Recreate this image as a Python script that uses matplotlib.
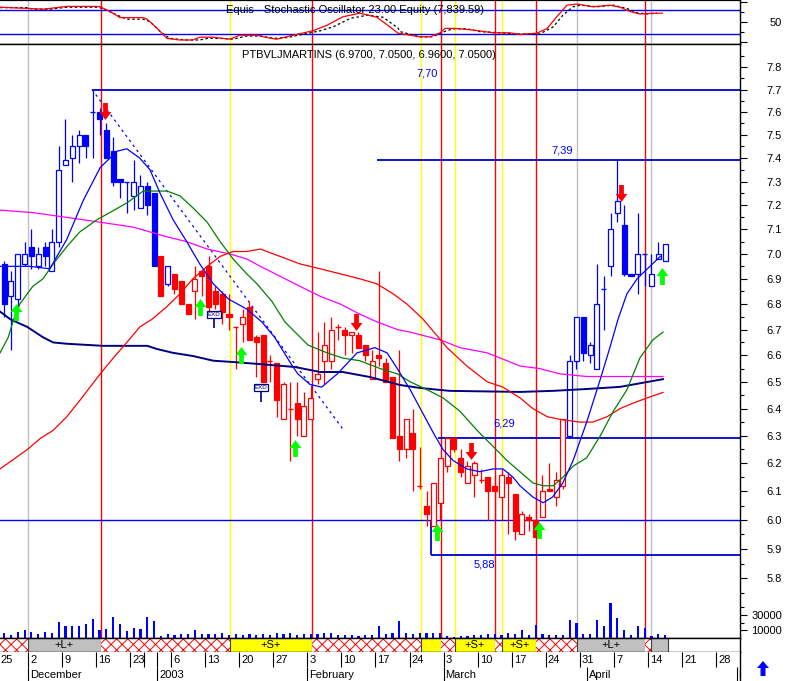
import matplotlib
matplotlib.use("Agg")
import matplotlib.pyplot as plt
from matplotlib.path import Path
from matplotlib.patches import Rectangle, Polygon
from matplotlib.ticker import FixedLocator, FixedFormatter, NullFormatter, NullLocator
import matplotlib.transforms as mtransforms

plt.rcParams['font.family'] = ['Liberation Sans', 'DejaVu Sans']
plt.rcParams['hatch.linewidth'] = 0.7
plt.rcParams['hatch.color'] = '#ff0000'

# ---------------- data (trading-day index, 1 = 26 Nov 2002) ----------------
days = list(range(1, 99))
opens = [6.96, 6.83, 6.82, 6.96, 7.03, 6.95, 7.03, 6.93, 7.05, 7.37,
         7.40, 7.45, 7.50, 7.60, 7.60, 7.52, 7.43, 7.31, 7.30, 7.24,
         7.19, 7.28, 7.25, 6.99, 6.88, 6.92, 6.89, 6.80, 6.85, 6.93,
         6.95, 6.85, 6.84, 6.76, 6.71, 6.72, 6.79, 6.67, 6.68, 6.58,
         6.57, 6.36, 6.40, 6.42, 6.30, 6.36, 6.51, 6.58, 6.58, 6.71,
         6.70, 6.68, 6.68, 6.64, 6.51, 6.60, 6.57, 6.52, 6.30, 6.25,
         6.31, 6.12, 6.05, 5.98, 6.06, 6.19, 6.29, 6.22, 6.13, 6.16,
         6.14, 6.15, 6.12, 6.08, 6.15, 6.09, 5.95, 6.01, 6.00, 6.01,
         6.11, 6.08, 6.12, 6.30, 6.58, 6.75, 6.60, 6.55, 6.86, 6.95,
         7.17, 7.12, 6.92, 6.92, 7.00, 6.87, 6.98, 6.97]
highs = [6.97, 6.93, 7.00, 7.05, 7.10, 7.03, 7.05, 7.10, 7.45, 7.57,
         7.50, 7.52, 7.50, 7.70, 7.62, 7.55, 7.49, 7.31, 7.30, 7.39,
         7.33, 7.30, 7.25, 6.99, 6.95, 6.92, 6.89, 6.80, 6.95, 6.93,
         6.99, 6.87, 6.85, 6.84, 6.71, 6.78, 6.81, 6.68, 6.68, 6.60,
         6.57, 6.50, 6.50, 6.50, 6.46, 6.48, 6.69, 6.73, 6.75, 6.72,
         6.71, 6.69, 6.69, 6.64, 6.62, 6.93, 6.59, 6.52, 6.62, 6.36,
         6.40, 6.26, 6.10, 6.13, 6.22, 6.29, 6.29, 6.25, 6.21, 6.21,
         6.18, 6.15, 6.16, 6.18, 6.17, 6.09, 6.03, 6.02, 6.10, 6.16,
         6.20, 6.17, 6.36, 6.60, 6.75, 6.75, 6.65, 6.96, 6.91, 7.17,
         7.39, 7.20, 6.92, 7.17, 7.00, 7.00, 7.05, 7.04]
lows = [6.75, 6.62, 6.79, 6.95, 6.94, 6.94, 6.95, 6.93, 7.03, 7.37,
        7.30, 7.38, 7.40, 7.40, 7.50, 7.40, 7.28, 7.23, 7.17, 7.18,
        7.19, 7.16, 6.95, 6.83, 6.87, 6.84, 6.80, 6.76, 6.74, 6.83,
        6.76, 6.78, 6.72, 6.70, 6.55, 6.65, 6.66, 6.52, 6.50, 6.50,
        6.37, 6.36, 6.21, 6.30, 6.30, 6.36, 6.49, 6.49, 6.55, 6.66,
        6.60, 6.61, 6.63, 6.58, 6.51, 6.56, 6.50, 6.29, 6.21, 6.22,
        6.10, 6.11, 5.98, 5.98, 6.00, 6.17, 6.24, 6.15, 6.13, 6.08,
        6.13, 6.00, 6.00, 6.00, 5.95, 5.93, 5.95, 5.96, 5.94, 6.01,
        6.10, 6.05, 6.11, 6.30, 6.55, 6.58, 6.57, 6.55, 6.70, 6.91,
        7.13, 6.91, 6.91, 6.84, 6.87, 6.87, 6.98, 6.97]
closes = [6.80, 6.89, 7.00, 7.00, 6.99, 7.00, 6.99, 7.05, 7.35, 7.39,
          7.45, 7.50, 7.45, 7.60, 7.57, 7.40, 7.30, 7.30, 7.30, 7.30,
          7.28, 7.20, 6.95, 6.83, 6.95, 6.86, 6.80, 6.76, 6.90, 6.91,
          6.79, 6.80, 6.77, 6.75, 6.71, 6.75, 6.66, 6.65, 6.50, 6.58,
          6.43, 6.49, 6.40, 6.36, 6.41, 6.44, 6.53, 6.64, 6.70, 6.71,
          6.68, 6.69, 6.63, 6.60, 6.58, 6.59, 6.50, 6.29, 6.25, 6.36,
          6.25, 6.12, 6.02, 6.13, 6.22, 6.29, 6.25, 6.17, 6.19, 6.20,
          6.14, 6.10, 6.10, 6.16, 6.13, 5.96, 6.02, 6.00, 5.94, 6.10,
          6.10, 6.14, 6.36, 6.58, 6.75, 6.61, 6.64, 6.80, 6.86, 7.10,
          7.22, 6.92, 6.91, 7.00, 7.00, 6.92, 7.00, 7.04]
candle_colors = 'b' * 23 + 'r' + 'b' + 'r' * 58 + 'b' * 15
volumes = [6400, 4300, 7700, 9900, 7300, 5100, 7700, 6900, 21000, 15900,
           15000, 16300, 18000, 24900, 10700, 12000, 27500, 18000, 9400, 13300,
           11600, 27500, 22300, 3000, 4700, 3400, 4700, 5100, 10700, 4700,
           5600, 5100, 6000, 3400, 5100, 4300, 4700, 3900, 4700, 3900,
           6000, 5600, 6900, 3900, 5600, 4700, 5600, 6000, 6900, 3400,
           4300, 3400, 3000, 3900, 4300, 15900, 4700, 6400, 22300, 6400,
           4700, 6900, 6900, 6900, 6000, 2600, 1700, 3000, 3000, 3900,
           3900, 5600, 4700, 3400, 6400, 5100, 10300, 4300, 17200, 5100,
           4300, 3900, 3900, 23600, 19300, 5600, 5600, 23600, 15000, 45000,
           26600, 10700, 4300, 15900, 12900, 3000, 5600, 4300]

# moving averages
ma_blue_x = [0.4, 4.8, 7.7, 10.2, 12.6, 15.1, 17.6, 19.0, 20.9, 22.4, 23.9, 25.8, 27.8, 29.7, 31.7,
             33.9, 36.6, 38.8, 40.7, 43.3, 44.1, 45.9, 47.6, 49.9, 52.8, 55.4, 57.2, 58.7, 60.6, 62.5,
             64.0, 65.4, 66.9, 68.9, 70.8, 72.8, 74.2, 75.7, 76.7, 78.6, 80.1, 81.5, 83.0, 84.5, 86.5,
             88.5, 89.9, 91.1, 92.4, 93.9, 95.4, 97.3]
ma_blue_y = [6.95, 6.95, 6.94, 7.06, 7.22, 7.36, 7.43, 7.44, 7.40, 7.35, 7.25, 7.14, 7.05, 6.96, 6.88,
             6.82, 6.78, 6.73, 6.67, 6.56, 6.53, 6.49, 6.48, 6.53, 6.61, 6.63, 6.61, 6.55, 6.47, 6.38,
             6.31, 6.25, 6.21, 6.18, 6.17, 6.18, 6.18, 6.15, 6.12, 6.08, 6.06, 6.08, 6.13, 6.21, 6.35,
             6.51, 6.63, 6.74, 6.84, 6.90, 6.94, 6.99]
ma_green_x = [0.4, 1.6, 2.4, 3.3, 5.2, 6.7, 8.2, 10.2, 12.1, 14.6, 16.5, 19.0, 21.4, 23.4, 24.9,
              26.8, 28.7, 30.8, 32.7, 34.6, 36.6, 38.1, 40.3, 42.2, 43.7, 45.6, 48.4, 50.7, 53.2, 56.2,
              58.7, 60.6, 63.1, 65.4, 67.9, 70.4, 72.8, 74.8, 76.7, 78.6, 80.1, 81.6, 83.0, 84.5, 86.5,
              88.5, 90.4, 92.4, 94.3, 96.2, 97.7]
ma_green_y = [6.61, 6.67, 6.74, 6.80, 6.87, 6.90, 6.96, 7.03, 7.09, 7.14, 7.17, 7.21, 7.26, 7.26, 7.26,
              7.24, 7.19, 7.13, 7.05, 6.98, 6.92, 6.88, 6.81, 6.73, 6.69, 6.64, 6.61, 6.59, 6.58, 6.55,
              6.53, 6.50, 6.47, 6.44, 6.39, 6.32, 6.26, 6.21, 6.17, 6.13, 6.12, 6.12, 6.15, 6.19, 6.22,
              6.30, 6.39, 6.47, 6.59, 6.66, 6.69]
ma_red_x = [0.4, 4.4, 6.3, 8.2, 10.2, 12.1, 13.6, 15.1, 17.0, 19.0, 20.9, 22.7, 24.9, 26.8, 28.7,
            30.8, 32.7, 34.6, 36.6, 38.6, 41.5, 44.4, 47.4, 50.3, 53.2, 55.7, 58.1, 60.1, 62.5, 66.0,
            68.9, 71.9, 74.2, 76.7, 78.6, 80.7, 82.6, 85.5, 87.4, 89.5, 91.4, 93.3, 95.4, 97.7]
ma_red_y = [6.18, 6.25, 6.29, 6.32, 6.37, 6.43, 6.48, 6.53, 6.59, 6.65, 6.71, 6.74, 6.79, 6.84, 6.90,
            6.95, 6.99, 7.01, 7.01, 7.02, 6.99, 6.96, 6.94, 6.92, 6.90, 6.88, 6.84, 6.80, 6.74, 6.63,
            6.56, 6.50, 6.48, 6.44, 6.40, 6.37, 6.36, 6.35, 6.35, 6.37, 6.40, 6.42, 6.44, 6.46]
ma_mag_x = [0.4, 5.2, 10.2, 15.1, 19.9, 24.9, 27.8, 30.8, 34.1, 36.6, 38.6, 41.5, 44.4, 47.4, 50.3,
            53.2, 55.7, 58.7, 60.6, 65.0, 67.9, 71.9, 74.8, 76.7, 79.6, 82.6, 86.5, 91.4, 97.7]
ma_mag_y = [7.18, 7.17, 7.15, 7.13, 7.11, 7.07, 7.05, 7.02, 7.00, 6.98, 6.95, 6.91, 6.87, 6.83, 6.80,
            6.76, 6.73, 6.70, 6.69, 6.66, 6.63, 6.61, 6.58, 6.56, 6.55, 6.53, 6.52, 6.52, 6.52]
ma_navy_x = [0.4, 1.9, 4.4, 6.7, 8.2, 10.2, 15.5, 22.0, 23.4, 25.8, 28.7, 31.7, 34.6, 38.6, 43.7,
             47.4, 50.7, 54.7, 59.1, 62.0, 66.4, 76.7, 81.5, 86.5, 91.4, 97.7]
ma_navy_y = [6.77, 6.74, 6.71, 6.67, 6.65, 6.645, 6.637, 6.637, 6.625, 6.61, 6.598, 6.58, 6.575, 6.567,
             6.556, 6.537, 6.537, 6.518, 6.488, 6.477, 6.466, 6.462, 6.466, 6.473, 6.481, 6.51]

# stochastic oscillator
stoch_k_days = [0.4, 4.4, 6.7, 10.2, 14.6, 15.1, 17.0, 18.0, 21.4, 22.0, 23.4, 24.9, 26.8, 28.7, 29.7,
                31.7, 34.1, 35.6, 38.1, 39.6, 41.0, 43.4, 46.3, 48.4, 50.7, 53.2, 55.7, 57.6, 58.8, 62.0,
                63.5, 65.0, 65.7, 67.2, 69.8, 72.8, 75.2, 76.7, 79.2, 80.7, 82.1, 83.6, 85.1, 87.4, 89.9,
                91.4, 92.9, 94.3, 96.2, 97.6]
stoch_k = [87, 84, 82, 89, 89, 88, 72, 61, 61, 57, 35, 9, 5, 5, 12,
           12, 7, 17, 17, 11, 7, 17, 28, 42, 63, 72, 62, 38, 22, 13,
           13, 23, 34, 34, 30, 23, 23, 19, 22, 34, 63, 92, 95, 88, 92,
           87, 76, 70, 72, 72]
stoch_d_days = [0.4, 4.4, 5.2, 7.7, 10.2, 14.6, 15.5, 17.6, 19.0, 21.4, 22.4, 23.9, 25.3, 27.8, 29.7,
                30.8, 32.7, 34.6, 36.6, 38.6, 40.5, 42.5, 45.9, 47.4, 49.3, 51.8, 54.3, 56.6, 58.8, 59.1,
                62.0, 63.9, 65.4, 66.9, 68.9, 70.8, 73.8, 76.7, 79.6, 81.6, 83.0, 84.5, 85.5, 88.0, 90.4,
                92.4, 93.9, 95.4, 96.8]
stoch_d = [86, 86, 82, 82, 87, 87, 84, 67, 57, 57, 51, 26, 9, 5, 5,
           9, 9, 7, 15, 15, 9, 11, 23, 28, 38, 59, 67, 62, 35, 26,
           13, 13, 25, 33, 33, 26, 23, 20, 20, 38, 67, 88, 92, 88, 92,
           84, 73, 70, 72]

# horizontal levels
level_vals = [7.70, 7.39, 6.29, 5.88]
level_from = [13.9, 55.7, 64.7, 63.6]
level_labels = ['7,70', '7,39', '6,29', '5,88']
level_label_day = [63.1, 82.95, 74.4, 71.5]
level_label_dy = [11.2, 6.8, 10.8, -7.2]
support_level = 6.00
trend_days = [13.9, 50.7]
trend_prices = [7.70, 6.325]

# signal arrows
buy_days = [2.8, 29.7, 35.7, 43.7, 64.6, 79.5, 97.5]
buy_prices = [6.770, 6.790, 6.600, 6.256, 5.958, 5.965, 6.910]
sell_days = [15.8, 52.6, 69.5, 91.5]
sell_prices = [7.604, 6.731, 6.246, 7.250]
exd_days = [31.8, 38.7]
exd_prices = [6.757, 6.477]
exd_stem_low = [6.706, 6.425]

# signal bar segments
sig_start = [0.0, 4.5, 15.2, 34.15, 46.2, 62.2, 65.1, 67.2, 73.0, 74.1, 79.1, 85.1, 95.1, 95.95]
sig_kind = ['X', 'L', 'X', 'S', 'X', 'S', 'X', 'S', 'X', 'S', 'X', 'L', 'X', 'L']
sig_end = 98.45

# date axis
week_bounds = [-0.5, 4.5, 9.5, 14.5, 19.5, 21.5, 23.5, 25.5, 30.5, 35.5, 40.5, 45.5, 50.5, 55.5,
               60.5, 65.5, 70.5, 75.5, 80.5, 85.5, 90.5, 95.5, 100.5, 105.5]
week_labels = ['25', '2', '9', '16', '23', '', '', '6', '13', '20', '27', '3', '10', '17',
               '24', '3', '10', '17', '24', '31', '7', '14', '21', '28']
month_bounds = [4.5, 23.5, 45.5, 65.5, 86.5, 108.5]
month_labels = ['December', '2003', 'February', 'March', 'April', 'May']

price_ticks = [5.8, 5.9, 6.0, 6.1, 6.2, 6.3, 6.4, 6.5, 6.6, 6.7, 6.8, 6.9, 7.0,
               7.1, 7.2, 7.3, 7.4, 7.5, 7.6, 7.7, 7.8]
price_minor = [5.75, 5.85, 5.95, 6.05, 6.15, 6.25, 6.35, 6.45, 6.55, 6.65, 6.75, 6.85,
               6.95, 7.05, 7.15, 7.25, 7.35, 7.45, 7.55, 7.65, 7.75, 7.85]

# ---------------- layout ----------------
W, H = 787, 681
AXR = 740
XLIM = (0.39, 109.0)
BLUE, RED = '#0000ff', '#ff0000'

fig = plt.figure(figsize=(W / 100, H / 100), dpi=100)
fig.patch.set_facecolor('white')


def box(top, bottom):
    return [0, 1 - bottom / H, AXR / W, (bottom - top) / H]


ax_st = fig.add_axes(box(0, 44))
ax = fig.add_axes(box(44, 638))
ax_vol = fig.add_axes(box(600, 638))
ax_sig = fig.add_axes(box(638, 652))
ax_dt = fig.add_axes(box(652, 681))

for a in (ax_st, ax, ax_vol, ax_sig, ax_dt):
    a.set_xlim(*XLIM)
    a.xaxis.set_major_locator(NullLocator())
    a.xaxis.set_minor_locator(NullLocator())
    a.spines['left'].set_visible(False)
    for s in a.spines.values():
        s.set_linewidth(1.0)


def right_axis(a, major, labels, minor):
    a.yaxis.tick_right()
    a.yaxis.set_major_locator(FixedLocator(major))
    a.yaxis.set_major_formatter(FixedFormatter(labels))
    a.yaxis.set_minor_locator(FixedLocator(minor))
    a.yaxis.set_minor_formatter(NullFormatter())
    a.tick_params(axis='y', which='major', length=5, width=0.8, pad=25.2,
                  labelsize=8, direction='out')
    a.tick_params(axis='y', which='minor', length=2.9, width=0.8, direction='out')
    for t in a.yaxis.get_major_ticks():
        t.label2.set_horizontalalignment('right')


# ---- stochastic panel ----
ax_st.set_ylim(-5, 105)
right_axis(ax_st, [0, 50, 100], ['', '50', ''], [25, 75])
ax_st.spines['top'].set_linewidth(1.6)
ax_st.axhline(80, color=BLUE, lw=1.0, zorder=2)
ax_st.axhline(20, color=BLUE, lw=1.0, zorder=2)
ax_st.plot(stoch_d_days, stoch_d, color='black', lw=0.9, ls=(0, (2, 2)), zorder=3)
ax_st.plot(stoch_k_days, stoch_k, color=RED, lw=0.9, zorder=4)

# ---- main price panel ----
ax.set_yscale('log')
ax.set_ylim(5.603, 7.906)
right_axis(ax, price_ticks, ['%.1f' % v for v in price_ticks], price_minor)

# signal vertical lines
line_col = {'L': '#c0c0c0', 'S': '#ffff00', 'X': RED}
for x, k in zip(sig_start[1:], sig_kind[1:]):
    ax.axvline(x, color=line_col[k], lw=1.0, zorder=1)
    ax_st.axvline(x, color=line_col[k], lw=1.0, zorder=1)

# levels
ax.axhline(support_level, color=BLUE, lw=1.0, zorder=1.5)
ax.hlines(level_vals, level_from, XLIM[1], colors='#0000cd', lw=1.3, zorder=1.5)
ax.vlines(level_from[3], level_vals[3], support_level, colors='#0000cd', lw=1.3, zorder=1.5)
for lab, lx, v, dy in zip(level_labels, level_label_day, level_vals, level_label_dy):
    ax.annotate(lab, xy=(lx, v), xytext=(0, dy), textcoords='offset points',
                ha='center', va='center', color=BLUE, fontsize=8)
ax.plot(trend_days, trend_prices, color=BLUE, lw=0.9, ls=(0, (2, 3)), zorder=1.6)

# candles
cmap = {'b': BLUE, 'r': RED}
ccol = [cmap[c] for c in candle_colors]
ax.vlines(days, lows, highs, colors=ccol, lw=0.9, zorder=2)
bx, bh, bb, bf, be = [], [], [], [], []
for d, o, c, k in zip(days, opens, closes, candle_colors):
    if o == c:
        ax.hlines(o, d - 0.38, d + 0.38, colors=cmap[k], lw=1.0, zorder=2.5)
    else:
        bx.append(d)
        bb.append(min(o, c))
        bh.append(abs(c - o))
        bf.append(cmap[k] if c < o else 'white')
        be.append(cmap[k])
ax.bar(bx, bh, bottom=bb, width=0.74, color=bf, edgecolor=be, linewidth=0.9, zorder=2.5)

# moving averages
ax.plot(ma_navy_x, ma_navy_y, color='#000080', lw=1.4, zorder=3)
ax.plot(ma_mag_x, ma_mag_y, color='#ff00ff', lw=0.9, zorder=3)
ax.plot(ma_red_x, ma_red_y, color=RED, lw=0.9, zorder=3)
ax.plot(ma_green_x, ma_green_y, color='#008000', lw=0.9, zorder=3)
ax.plot(ma_blue_x, ma_blue_y, color=BLUE, lw=0.9, zorder=3)

# arrows
up_verts = [(-0.28, -1), (0.28, -1), (0.28, 0.05), (0.7, 0.05), (0, 1), (-0.7, 0.05),
            (-0.28, 0.05), (-0.28, -1)]
codes = [Path.MOVETO] + [Path.LINETO] * 6 + [Path.CLOSEPOLY]
up_path = Path(up_verts, codes)
down_path = Path([(x, -y) for x, y in up_verts], codes)
ax.plot(buy_days, buy_prices, ls='none', marker=up_path, ms=12.2,
        mfc='#00ff00', mec='none', zorder=5)
ax.plot(sell_days, sell_prices, ls='none', marker=down_path, ms=12.2,
        mfc=RED, mec='none', zorder=5)

# ex-dividend markers
ax.vlines(exd_days, exd_stem_low, exd_prices, colors='#000080', lw=1.2, zorder=5)
for d, p in zip(exd_days, exd_prices):
    ax.text(d, p, 'EXD', fontsize=4.5, color='#000080', ha='center', va='center', zorder=6,
            bbox=dict(boxstyle='square,pad=0.15', fc='white', ec='#000080', lw=0.9))

# ---- volume ----
ax_vol.set_ylim(0, 49565)
ax_vol.patch.set_visible(False)
for s in ax_vol.spines.values():
    s.set_visible(False)
right_axis(ax_vol, [10000, 30000], ['10000', '30000'], [20000, 40000])
ax_vol.bar(days, volumes, width=0.32, color=BLUE, zorder=2)

# ---- signal bar ----
ax_sig.set_ylim(0, 1)
ax_sig.yaxis.set_major_locator(NullLocator())
ends = sig_start[1:] + [sig_end]
for s, e, k in zip(sig_start, ends, sig_kind):
    if k == 'X':
        ax_sig.add_patch(Rectangle((s, 0), e - s, 1, facecolor='white', edgecolor=RED,
                                   hatch='xxx', lw=0))
    else:
        fc = '#c0c0c0' if k == 'L' else '#ffff00'
        ax_sig.add_patch(Rectangle((s, 0), e - s, 1, facecolor=fc, edgecolor='#404040', lw=0.8))
        if (e - s) > 3.7:
            ax_sig.text((s + e) / 2, 0.5, '+%s+' % k, ha='center', va='center', fontsize=8)

# ---- date axis ----
ax_dt.set_ylim(0, 1)
ax_dt.yaxis.set_major_locator(NullLocator())
for s in ('top', 'bottom'):
    ax_dt.spines[s].set_visible(False)
ax_dt.vlines(week_bounds, 0.48, 1, colors='black', lw=0.8)
ax_dt.vlines(month_bounds, 0, 0.48, colors='black', lw=0.8)
off = mtransforms.offset_copy(ax_dt.transData, fig=fig, x=2, y=0, units='dots')
for b, lab in zip(week_bounds, week_labels):
    ax_dt.text(max(b, XLIM[0] - 0.25), 0.74, lab, transform=off, fontsize=8,
               ha='left', va='center', clip_on=True)
for b, lab in zip(month_bounds, month_labels):
    ax_dt.text(b, 0.22, lab, transform=off, fontsize=8, ha='left', va='center', clip_on=True)

# ---- texts ----
def fx(px):
    return px / W


def fy(py):
    return 1 - py / H


fig.text(fx(226), fy(10), 'Equis - Stochastic Oscillator 23.00 Equity (7,839.59)',
         fontsize=8, va='center')
fig.text(fx(242), fy(55), 'PTBVLJMARTINS (6.9700, 7.0500, 6.9600, 7.0500)', fontsize=8, va='center')

# scroll arrow bottom right
pts = [(763, 661), (769, 668), (765.5, 668), (765.5, 676), (760.5, 676), (760.5, 668), (757, 668)]
fig.add_artist(Polygon([(fx(x), fy(y)) for x, y in pts], closed=True,
                       transform=fig.transFigure, facecolor=BLUE, edgecolor='none'))

fig.savefig('out.png', dpi=100, facecolor='white')
